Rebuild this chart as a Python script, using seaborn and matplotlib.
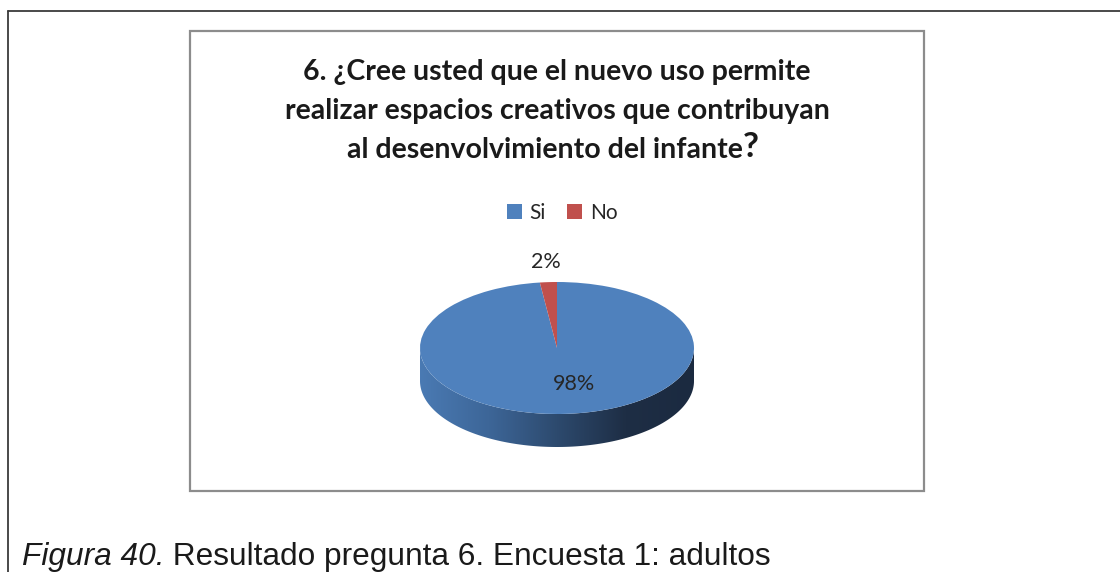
"""
Pie chart (3D look) - Encuesta 1, pregunta 6
"""

import numpy as np
import matplotlib.pyplot as plt
import seaborn as sns
from matplotlib.colors import LinearSegmentedColormap
from matplotlib.patches import Polygon, Rectangle
from matplotlib.lines import Line2D

# data
labels = ['Si', 'No']
values = [98, 2]
slice_colors = ['#4f81bd', '#c0504d']

title_lines = ['6. ¿Cree usted que el nuevo uso permite',
               'realizar espacios creativos que contribuyan',
               'al desenvolvimiento del infante']
caption_italic = 'Figura 40.'
caption_text = ' Resultado pregunta 6. Encuesta 1: adultos'

sns.set_theme(style='white')
plt.rcParams['font.family'] = ['Lato', 'DejaVu Sans']

W, H = 1120, 572
fig = plt.figure(figsize=(W / 100, H / 100), dpi=100)
fig.patch.set_facecolor('white')


def fx(px):
    return px / W


def fy(py):
    return 1 - py / H


# frames
fig.add_artist(Line2D([fx(8), fx(8)], [fy(11), 0], color='#3a3a3a', lw=1.3))
fig.add_artist(Line2D([fx(8), 1], [fy(11), fy(11)], color='#3a3a3a', lw=1.3))
fig.add_artist(Rectangle((fx(190), fy(491)), fx(924) - fx(190), fy(31) - fy(491),
                         fill=False, edgecolor='#8c8c8c', lw=1.6))

# pie axes: 137 px per x unit, 66 px per y unit, center at (557, 348)
cx, cy, sx, sy = 557, 348, 137, 66
xl, yl = (-1.2, 1.2), (-1.7, 1.2)
ax = fig.add_axes([fx(cx + xl[0] * sx), fy(cy - yl[0] * sy),
                   (xl[1] - xl[0]) * sx / W, (yl[1] - yl[0]) * sy / H])

wedges, _ = ax.pie(values, colors=slice_colors, startangle=90, counterclock=False,
                   wedgeprops=dict(linewidth=0))
for w in wedges:
    w.set_zorder(3)

# side of the disc with a horizontal gradient
depth = 0.5
t = np.linspace(np.pi, 2 * np.pi, 200)
top = np.column_stack([np.cos(t), np.sin(t)])
bottom = np.column_stack([np.cos(t[::-1]), np.sin(t[::-1]) - depth])
side = Polygon(np.vstack([top, bottom]), closed=True, facecolor='none', edgecolor='none')
ax.add_patch(side)
side_cmap = LinearSegmentedColormap.from_list(
    'side', ['#4a7ab3', '#3d6698', '#2d4a6e', '#1e2e45', '#1b2a40'])
grad = np.linspace(0, 1, 256).reshape(1, -1)
img = ax.imshow(grad, cmap=side_cmap, extent=[-1, 1, -1 - depth, 0], aspect='auto', zorder=2)
img.set_clip_path(side)

# percentage labels placed along each slice's middle angle (plus a small nudge)
label_dist = [0.55, 1.3]
label_dx = [0.09, 0.0]
for w, v, d, dx in zip(wedges, values, label_dist, label_dx):
    ang = np.deg2rad((w.theta1 + w.theta2) / 2)
    ax.text(d * np.cos(ang) + dx, d * np.sin(ang), f'{v}%', ha='center', va='center',
            fontsize=15.5, color='#262626', zorder=5)

ax.set_aspect('auto')
ax.set_xlim(*xl)
ax.set_ylim(*yl)
ax.axis('off')

# title
title_kw = dict(fontsize=20.5, fontweight='bold', color='#1a1a1a')
for i, line in enumerate(title_lines[:2]):
    fig.text(fx(557), fy(72 + 39 * i), line, ha='center', va='center', **title_kw)
t3 = fig.text(fx(347), fy(150), title_lines[2], ha='left', va='center', **title_kw)
plt.annotate('?', xy=(1, 0), xycoords=t3, ha='left', va='bottom',
             fontsize=25, fontweight='bold', color='#1a1a1a')

# legend
handles = [Rectangle((0, 0), 1, 1, facecolor=c, edgecolor='none') for c in slice_colors]
fig.legend(handles, labels, loc='center', bbox_to_anchor=(fx(562), fy(213)), ncol=2,
           frameon=False, fontsize=15, handlelength=0.75, handleheight=0.75,
           handletextpad=0.35, columnspacing=1.0)

# caption
cap_kw = dict(fontsize=22.8, family=['Liberation Sans'], color='#1a1a1a')
cap = fig.text(fx(22), fy(565), caption_italic, ha='left', va='baseline',
               style='italic', **cap_kw)
plt.annotate(caption_text, xy=(1, 0), xycoords=cap, ha='left', va='bottom', **cap_kw)

fig.savefig('out.png', dpi=100, facecolor='white')
